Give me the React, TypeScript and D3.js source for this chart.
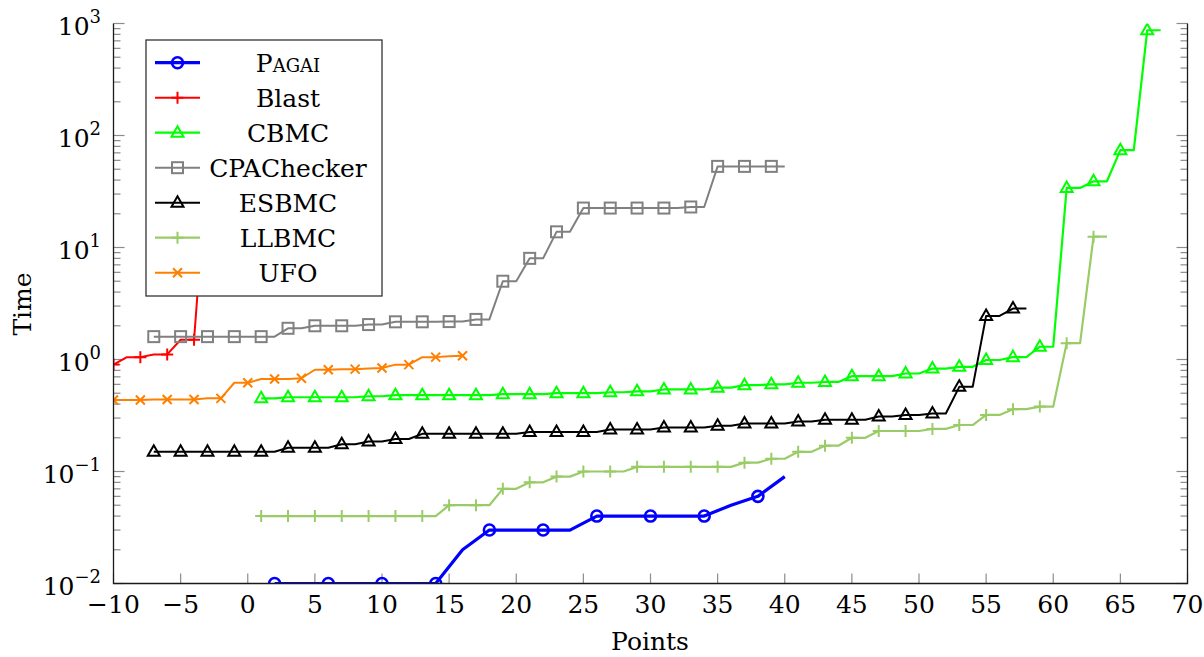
import React from "react";
import * as d3 from "d3";

// ---- data ----
const pagaiX = [2, 4, 6, 8, 10, 12, 14, 16, 18, 20, 22, 24, 26, 28, 30, 32, 34, 36, 38, 40];
const pagaiY = [0.01, 0.01, 0.01, 0.01, 0.01, 0.01, 0.01, 0.02, 0.03, 0.03, 0.03, 0.03, 0.04, 0.04, 0.04, 0.04, 0.04, 0.05, 0.06, 0.09];

const blastStart = -10;
const blastY = [0.9, 1.05, 1.05, 1.11, 1.11, 1.5, 1.5, 60];

const cbmcStart = 1;
const cbmcY = [
  0.45, 0.45, 0.46, 0.46, 0.46, 0.46, 0.46, 0.46, 0.47, 0.47,
  0.48, 0.48, 0.48, 0.48, 0.48, 0.48, 0.48, 0.48, 0.49, 0.49,
  0.49, 0.49, 0.5, 0.5, 0.5, 0.5, 0.51, 0.51, 0.52, 0.52,
  0.54, 0.54, 0.54, 0.54, 0.56, 0.56, 0.59, 0.59, 0.6, 0.6,
  0.62, 0.62, 0.63, 0.63, 0.71, 0.71, 0.71, 0.71, 0.75, 0.75,
  0.83, 0.83, 0.86, 0.86, 0.99, 0.99, 1.05, 1.05, 1.3, 1.3,
  34, 34, 39, 39, 74, 74, 870, 870,
];

const cpaStart = -7;
const cpaY = [
  1.6, 1.6, 1.6, 1.6, 1.6, 1.6, 1.6, 1.6, 1.6, 1.6,
  1.9, 1.9, 2.0, 2.0, 2.0, 2.0, 2.05, 2.05, 2.17, 2.17,
  2.17, 2.17, 2.18, 2.18, 2.28, 2.28, 5.0, 5.0, 8.0, 8.0,
  13.8, 13.8, 22.5, 22.5, 22.5, 22.5, 22.5, 22.5, 22.5, 22.5,
  23, 23, 53, 53, 53, 53, 53, 53,
];

const esbmcStart = -7;
const esbmcY = [
  0.15, 0.15, 0.15, 0.15, 0.15, 0.15, 0.15, 0.15, 0.15, 0.15,
  0.163, 0.163, 0.163, 0.163, 0.175, 0.175, 0.185, 0.185, 0.195, 0.195,
  0.217, 0.217, 0.217, 0.217, 0.217, 0.217, 0.217, 0.217,
  0.225, 0.225, 0.225, 0.225, 0.225, 0.225,
  0.237, 0.237, 0.237, 0.237, 0.247, 0.247, 0.247, 0.247,
  0.256, 0.256, 0.268, 0.268, 0.268, 0.268, 0.279, 0.279,
  0.29, 0.29, 0.29, 0.29, 0.31, 0.31, 0.32, 0.32, 0.33, 0.33,
  0.57, 0.57, 2.45, 2.45, 2.85, 2.85,
];

const llbmcStart = 1;
const llbmcY = [
  0.04, 0.04, 0.04, 0.04, 0.04, 0.04, 0.04, 0.04, 0.04, 0.04, 0.04, 0.04, 0.04, 0.04,
  0.05, 0.05, 0.05, 0.05, 0.07, 0.07, 0.08, 0.08, 0.09, 0.09,
  0.1, 0.1, 0.1, 0.1, 0.11, 0.11, 0.11, 0.11, 0.11, 0.11, 0.11, 0.11,
  0.12, 0.12, 0.13, 0.13, 0.15, 0.15, 0.17, 0.17, 0.2, 0.2,
  0.23, 0.23, 0.23, 0.23, 0.24, 0.24, 0.26, 0.26, 0.32, 0.32,
  0.36, 0.36, 0.38, 0.38, 1.4, 1.4, 12.5, 12.5,
];

const ufoStart = -10;
const ufoY = [
  0.435, 0.435, 0.435, 0.44, 0.44, 0.44, 0.44, 0.45, 0.45, 0.62,
  0.62, 0.67, 0.67, 0.67, 0.68, 0.81, 0.81, 0.82, 0.82, 0.83,
  0.84, 0.9, 0.9, 1.05, 1.05, 1.07, 1.08,
];

const xTicks = [-10, -5, 0, 5, 10, 15, 20, 25, 30, 35, 40, 45, 50, 55, 60, 65, 70];
const yDecades = [-2, -1, 0, 1, 2, 3];
const xLabel = "Points";
const yLabel = "Time";

type Marker = "circle" | "plus" | "triangle" | "square" | "cross";
interface Series {
  name: string;
  smallCaps?: boolean;
  color: string;
  width: number;
  marker: Marker;
  pts: [number, number][];
}

const fromStart = (start: number, ys: number[]) =>
  ys.map((v, i) => [start + i, v] as [number, number]);

const series: Series[] = [
  { name: "Pagai", smallCaps: true, color: "#0000ff", width: 3.2, marker: "circle", pts: pagaiX.map((x, i) => [x, pagaiY[i]] as [number, number]) },
  { name: "Blast", color: "#ff0000", width: 2, marker: "plus", pts: fromStart(blastStart, blastY) },
  { name: "CBMC", color: "#00ff00", width: 2.2, marker: "triangle", pts: fromStart(cbmcStart, cbmcY) },
  { name: "CPAChecker", color: "#808080", width: 2, marker: "square", pts: fromStart(cpaStart, cpaY) },
  { name: "ESBMC", color: "#000000", width: 2, marker: "triangle", pts: fromStart(esbmcStart, esbmcY) },
  { name: "LLBMC", color: "#99cc66", width: 2.2, marker: "plus", pts: fromStart(llbmcStart, llbmcY) },
  { name: "UFO", color: "#ff8000", width: 2, marker: "cross", pts: fromStart(ufoStart, ufoY) },
];

const W = 1204;
const H = 657;
const L = 113.5, R = 1187.5, T = 23.5, B = 583.5;
const FONT = '"DejaVu Serif", "Liberation Serif", "Times New Roman", serif';
const tstyle = { fontFamily: FONT } as React.CSSProperties;

const x = d3.scaleLinear().domain([-10, 70]).range([L, R]);
const y = d3.scaleLog().domain([0.01, 1000]).range([B, T]);

function MarkerShape({ m, cx, cy, color, sw }: { m: Marker; cx: number; cy: number; color: string; sw: number }) {
  const common = { stroke: color, strokeWidth: sw, fill: "none" } as any;
  switch (m) {
    case "circle":
      return <circle cx={cx} cy={cy} r={5.5} {...common} />;
    case "plus":
      return <path d={`M${cx - 6},${cy}H${cx + 6}M${cx},${cy - 6}V${cy + 6}`} {...common} />;
    case "triangle":
      return <path d={`M${cx},${cy - 6.5}L${cx + 6},${cy + 4}L${cx - 6},${cy + 4}Z`} {...common} strokeLinejoin="miter" />;
    case "square":
      return <rect x={cx - 5.5} y={cy - 5.5} width={11} height={11} {...common} />;
    case "cross":
      return <path d={`M${cx - 4.5},${cy - 4.5}L${cx + 4.5},${cy + 4.5}M${cx - 4.5},${cy + 4.5}L${cx + 4.5},${cy - 4.5}`} {...common} />;
  }
}

export default function App() {
  const line = d3
    .line<[number, number]>()
    .x((d) => x(d[0]))
    .y((d) => y(d[1]));

  const minor: number[] = [];
  yDecades.slice(0, -1).forEach((e) => {
    for (let k = 2; k <= 9; k++) minor.push(k * Math.pow(10, e));
  });

  const legendX = 146, legendY = 40, legendW = 236, legendH = 256;

  return (
    <svg width={W} height={H} style={{ position: "absolute", left: 0, top: 0, background: "#fff" }}>
      <rect width={W} height={H} fill="#fff" />
      <defs>
        <clipPath id="plot">
          <rect x={L} y={T} width={R - L} height={B - T} />
        </clipPath>
      </defs>

      {/* ticks */}
      <g stroke="#8c8c8c" strokeWidth={1.2}>
        {xTicks.map((t) => (
          <line key={"xt" + t} x1={x(t)} x2={x(t)} y1={B} y2={B - 10} />
        ))}
        {yDecades.map((e) => (
          <g key={"yt" + e}>
            <line x1={L} x2={L + 11} y1={y(Math.pow(10, e))} y2={y(Math.pow(10, e))} />
            <line x1={R} x2={R - 11} y1={y(Math.pow(10, e))} y2={y(Math.pow(10, e))} />
          </g>
        ))}
        {minor.map((v, i) => (
          <g key={"ym" + i}>
            <line x1={L} x2={L + 7} y1={y(v)} y2={y(v)} />
            <line x1={R} x2={R - 7} y1={y(v)} y2={y(v)} />
          </g>
        ))}
      </g>

      {/* series */}
      <g clipPath="url(#plot)">
        {series.map((s) => (
          <g key={s.name}>
            <path d={line(s.pts) || ""} fill="none" stroke={s.color} strokeWidth={s.width} strokeLinejoin="round" />
            {s.pts
              .filter((_, i) => i % 2 === 0)
              .map((p, i) => (
                <MarkerShape key={i} m={s.marker} cx={x(p[0])} cy={y(p[1])} color={s.color} sw={s.marker === "circle" ? 2.6 : 2} />
              ))}
          </g>
        ))}
      </g>

      {/* axis lines (left, bottom, right) */}
      <path d={`M${L},${T}V${B}H${R}V${T}`} fill="none" stroke="#1a1a1a" strokeWidth={1.3} />

      {/* x tick labels */}
      <g fontSize={25} textAnchor="middle" fill="#000">
        {xTicks.map((t) => (
          <text key={"xl" + t} x={x(t)} y={613} style={tstyle}>
            {t < 0 ? "\u2212" + Math.abs(t) : String(t)}
          </text>
        ))}
      </g>

      {/* y tick labels */}
      <g fill="#000" textAnchor="end">
        {yDecades.map((e) => (
          <text key={"yl" + e} x={101} y={y(Math.pow(10, e)) + 11} fontSize={25} style={tstyle}>
            10
            <tspan fontSize={18} dy={-12}>
              {e < 0 ? "\u2212" + Math.abs(e) : String(e)}
            </tspan>
          </text>
        ))}
      </g>

      {/* axis titles */}
      <text x={650} y={650} fontSize={25} textAnchor="middle" style={tstyle}>
        {xLabel}
      </text>
      <text transform={`translate(31,304) rotate(-90)`} fontSize={25} textAnchor="middle" style={tstyle}>
        {yLabel}
      </text>

      {/* legend */}
      <g>
        <rect x={legendX} y={legendY} width={legendW} height={legendH} fill="#fff" stroke="#333" strokeWidth={1.3} />
        {series.map((s, i) => {
          const cy = 62.7 + i * 35;
          return (
            <g key={"lg" + s.name}>
              <line x1={155} x2={200} y1={cy} y2={cy} stroke={s.color} strokeWidth={s.width} />
              <MarkerShape m={s.marker} cx={177.5} cy={cy} color={s.color} sw={s.marker === "circle" ? 2.6 : 2} />
              <text
                x={288}
                y={cy + 9}
                fontSize={25}
                textAnchor="middle"
                style={s.smallCaps ? { ...tstyle, fontVariant: "small-caps" } : tstyle}
              >
                {s.name}
              </text>
            </g>
          );
        })}
      </g>
    </svg>
  );
}
